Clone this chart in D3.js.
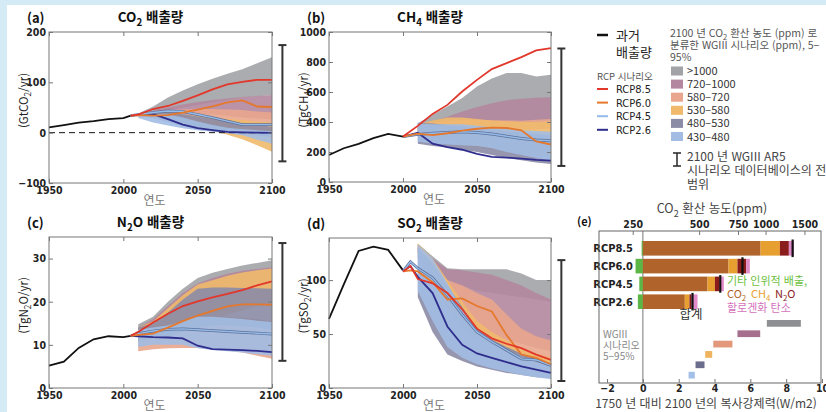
<!DOCTYPE html>
<html lang="ko">
<head>
  <meta charset="UTF-8">
  <title>Emissions - RCP vs WGIII</title>
  <script src="https://d3js.org/d3.v7.min.js"></script>
  <style>
    body { margin: 0; background: #fff; }
    .tick text { font-family: 'Liberation Sans Narrow', 'DejaVu Sans Condensed', sans-serif; font-weight: bold; font-size: 10.5px; fill: #222; }
    .tick line { stroke: #777; }
  </style>
</head>
<body>
<script>
  // ---- data ----
  const bandYears = [2010, 2020, 2030, 2040, 2050, 2060, 2070, 2080, 2090, 2100];
  const bandNames = [">1000", "720–1000", "580–720", "530–580", "480–530", "430–480"];
  const bandColors = ["#a2a3a6", "#b2879f", "#e9a68c", "#f0b96b", "#8b8ba6", "#a2bce3"];
  const rcpNames = ["RCP8.5", "RCP6.0", "RCP4.5", "RCP2.6"];
  const rcpColors = ["#e2372b", "#e5782c", "#94bbea", "#2f2e8e"];

  // CO2 (GtCO2/yr)
  const co2HistYears = [1950, 1960, 1970, 1980, 1990, 2000, 2005];
  const co2Hist = [10.5, 15, 20, 23, 27, 29, 34];
  const co2RcpYears = [2005, 2010, 2020, 2030, 2040, 2050, 2060, 2070, 2080, 2090, 2100];
  const co2Rcp = [
    [34, 36, 47, 53, 63, 74, 86, 96, 101, 105, 105],
    [34, 35, 34, 35, 40, 46, 52, 60, 64, 52, 51],
    [34, 36, 40, 43, 42, 36, 30, 23, 16, 16, 16],
    [34, 36, 37, 27, 16, 9, 5, 1.5, 0.5, 0, -0.5]
  ];
  const co2Lo = [
    [35, 40, 45, 50, 55, 60, 65, 70, 72, 75],
    [34, 37, 38, 38, 38, 36, 33, 30, 28, 26],
    [33, 34, 32, 27, 22, 17, 13, 10, 8, 6],
    [33, 32, 27, 19, 11, 4, -4, -13, -25, -38],
    [33, 29, 21, 13, 7, 3, 0, -3, -5, -8],
    [29, 20, 14, 9, 5, 2, -1, -5, -14, -22]
  ];
  const co2Hi = [
    [38, 52, 70, 84, 96, 107, 117, 126, 138, 150],
    [36, 44, 50, 56, 61, 65, 68, 71, 73, 75],
    [35, 40, 44, 46, 47, 47, 46, 45, 42, 40],
    [35, 37, 38, 36, 33, 30, 27, 25, 22, 20],
    [35, 38, 40, 37, 32, 27, 22, 18, 15, 12],
    [35, 38, 36, 30, 22, 15, 10, 7, 5, 3]
  ];
  const co2Range = [-57, 174];

  // CH4 (TgCH4/yr)
  const ch4HistYears = [1950, 1960, 1970, 1980, 1990, 2000];
  const ch4Hist = [180, 225, 254, 292, 321, 303];
  const ch4RcpYears = [2000, 2010, 2020, 2030, 2040, 2050, 2060, 2070, 2080, 2090, 2100];
  const ch4Rcp = [
    [303, 374, 454, 514, 603, 681, 753, 793, 833, 877, 893],
    [303, 322, 312, 325, 342, 355, 362, 360, 345, 270, 250],
    [303, 318, 325, 330, 335, 330, 320, 305, 290, 280, 275],
    [303, 328, 255, 232, 215, 187, 168, 163, 156, 147, 143]
  ];
  const ch4Lo = [
    [330, 350, 370, 390, 400, 410, 410, 410, 410, 410],
    [340, 360, 370, 380, 385, 390, 395, 400, 400, 405],
    [340, 340, 345, 345, 345, 345, 345, 345, 350, 355],
    [320, 295, 270, 250, 235, 220, 205, 190, 180, 170],
    [255, 240, 230, 215, 200, 180, 160, 145, 130, 120],
    [270, 255, 250, 245, 240, 225, 200, 180, 160, 140]
  ];
  const ch4Hi = [
    [392, 448, 503, 560, 637, 690, 726, 726, 704, 715],
    [375, 405, 435, 470, 500, 525, 545, 555, 562, 565],
    [372, 395, 410, 415, 415, 412, 410, 408, 415, 420],
    [385, 410, 430, 430, 420, 410, 405, 400, 400, 403],
    [395, 390, 380, 370, 360, 350, 340, 330, 320, 310],
    [390, 385, 385, 385, 375, 365, 355, 345, 340, 335]
  ];
  const ch4Range = [107, 890];

  // N2O (TgN2O/yr)
  const n2oHistYears = [1950, 1960, 1970, 1980, 1990, 2000, 2005];
  const n2oHist = [5.2, 6.1, 9.3, 11.3, 12.0, 11.8, 12.1];
  const n2oRcpYears = [2005, 2010, 2020, 2030, 2040, 2050, 2060, 2070, 2080, 2090, 2100];
  const n2oRcp = [
    [12.1, 13, 15.2, 17.2, 19, 20.1, 21, 21.8, 22.7, 23.8, 24.7],
    [12.1, 12.3, 12.6, 14, 15.5, 16.8, 17.9, 18.9, 19.4, 19.4, 19.3],
    [12.1, 12.6, 13.2, 13.6, 13.7, 13.5, 13.3, 13.1, 12.9, 12.7, 12.5],
    [12.1, 12, 11.8, 11.7, 11.5, 9.8, 9.0, 8.9, 8.8, 8.6, 8.3]
  ];
  const n2oLo = [
    [11, 12, 13, 15, 17, 18, 19, 20, 21, 22],
    [12, 13, 14, 15, 16, 17, 18, 19, 19.5, 20],
    [8.5, 9, 9.2, 9.3, 9.3, 9, 8.7, 8.2, 7.5, 6.8],
    [11, 11.5, 12, 13, 14, 15.5, 17, 18, 19, 20],
    [11, 11.5, 12, 13, 14, 14.5, 14.5, 14.3, 14, 13.5],
    [9.5, 10, 10, 10, 9.2, 8.8, 8.5, 8.2, 7.8, 7.5]
  ];
  const n2oHi = [
    [14.8, 16.5, 20, 23, 25.5, 26.7, 27.6, 28.4, 29, 29.6],
    [14, 16, 19, 22, 24.2, 25.5, 26.5, 27.2, 27.6, 28],
    [12, 13, 14, 15, 16, 16.5, 16.5, 16.3, 16, 15.5],
    [14, 15.5, 18.5, 21.5, 24, 25, 26, 26.8, 27.3, 27.7],
    [14, 15, 17.5, 20.5, 23, 23.3, 23.3, 23.2, 23.1, 23],
    [13.5, 14, 14.5, 15.5, 16.5, 16.5, 16.3, 16, 15.6, 15.3]
  ];
  const n2oRange = [6.3, 33.6];

  // SO2 (TgSO2/yr)
  const so2HistYears = [1950, 1960, 1970, 1980, 1990, 2000];
  const so2Hist = [64, 96, 127, 131, 128, 109];
  const so2RcpYears = [2000, 2005, 2010, 2020, 2030, 2040, 2050, 2060, 2070, 2080, 2090, 2100];
  const so2Rcp = [
    [108, 113, 101, 97, 88, 73, 55, 46, 41, 37, 31, 26],
    [108, 109, 108, 98, 82, 83, 76, 71, 49, 31, 28, 22],
    [108, 117, 111, 102, 86, 68, 52, 43, 35, 27, 26, 21],
    [108, 113, 103, 88, 57, 40, 32, 28, 24, 20, 17, 14]
  ];
  const so2Lo = [
    [125, 110, 100, 95, 90, 88, 86, 84, 82, 80],
    [120, 100, 75, 60, 52, 48, 45, 41, 37, 34],
    [125, 105, 75, 55, 45, 40, 35, 30, 27, 25],
    [128, 110, 85, 65, 50, 42, 35, 28, 24, 21],
    [84, 52, 31, 25, 20, 17, 14, 12, 10, 9],
    [90, 62, 38, 28, 22, 18, 15, 12, 10, 8]
  ];
  const so2Hi = [
    [134, 122, 111, 110, 110, 110, 110, 106, 100, 100],
    [132, 120, 110, 109, 107, 105, 100, 95, 88, 82],
    [132, 118, 100, 95, 88, 82, 68, 55, 48, 44],
    [134, 120, 100, 80, 62, 52, 44, 37, 32, 28],
    [130, 115, 95, 75, 55, 45, 38, 32, 27, 23],
    [133, 120, 97, 73, 52, 42, 35, 29, 24, 20]
  ];
  const so2Range = [6.5, 118.5];

  // radiative forcing in 2100 (W/m2)
  const forcingOther = [-0.07, -0.41, -0.20, -0.28];
  const forcingCO2 = [6.57, 4.78, 3.61, 2.34];
  const forcingCH4 = [1.08, 0.50, 0.41, 0.26];
  const forcingN2O = [0.50, 0.49, 0.26, 0.12];
  const forcingHalo = [0.28, 0.20, 0.24, 0.33];
  const wgLow = [6.92, 5.28, 3.93, 3.48, 2.94, 2.55];
  const wgHigh = [8.82, 6.55, 5.00, 3.87, 3.44, 2.90];
  const ppmTicks = [250, 500, 750, 1000, 1500];
  const wTicks = [-2, 0, 2, 4, 6, 8, 10];

  // ---- drawing ----
  const W = 826, H = 412;
  const KR = "'Noto Sans CJK KR', sans-serif";
  const NARROW = "'Liberation Sans Narrow', 'DejaVu Sans Condensed', sans-serif";
  const svg = d3.select("body").append("svg").attr("width", W).attr("height", H);

  svg.append("rect").attr("width", W).attr("height", H).attr("fill", "#d4eaf5");
  svg.append("rect").attr("x", 7).attr("y", 5).attr("width", W - 7).attr("height", H - 5).attr("fill", "#fff");

  // text with subscript parts: [["CO",0],["2",1],[" 배출량",0]]
  function subText(sel, parts, size) {
    let down = false;
    parts.forEach(p => {
      const t = sel.append("tspan").text(p[0]);
      if (p[1]) {
        t.attr("dy", size * 0.3).attr("font-size", size * 0.72);
        down = true;
      } else if (down) {
        t.attr("dy", -size * 0.3);
        down = false;
      }
    });
    return sel;
  }

  function drawPanel(p) {
    const x = d3.scaleLinear().domain([1950, 2100]).range([p.left, p.right]);
    const y = d3.scaleLinear().domain(p.yDomain).range([p.bottom, p.top]);
    const g = svg.append("g");

    // scenario bands
    bandColors.forEach((c, k) => {
      const pts = p.lo[k].map((v, i) => [bandYears[i], v, p.hi[k][i]]);
      g.append("path").datum(pts)
        .attr("fill", c).attr("fill-opacity", 0.9)
        .attr("d", d3.area().x(d => x(d[0])).y0(d => y(d[1])).y1(d => y(d[2])));
    });

    if (p.zeroLine) {
      g.append("line")
        .attr("x1", x(1950)).attr("x2", x(2100)).attr("y1", y(0)).attr("y2", y(0))
        .attr("stroke", "#111").attr("stroke-dasharray", "6,4").attr("stroke-width", 1);
    }

    // historical emissions
    g.append("path").datum(p.hist.map((v, i) => [p.histYears[i], v]))
      .attr("fill", "none").attr("stroke", "#111").attr("stroke-width", 1.8)
      .attr("d", d3.line().x(d => x(d[0])).y(d => y(d[1])));

    // RCP lines, drawn 2.6 first
    const line = d3.line().x(d => x(d[0])).y(d => y(d[1]));
    [3, 2, 1, 0].forEach(k => {
      const pts = p.rcp[k].map((v, i) => [p.rcpYears[i], v]);
      if (k === 2) {
        g.append("path").datum(pts).attr("fill", "none")
          .attr("stroke", "#5e7096").attr("stroke-width", 2.8).attr("d", line);
        g.append("path").datum(pts).attr("fill", "none")
          .attr("stroke", rcpColors[k]).attr("stroke-width", 1.4).attr("d", line);
      } else {
        g.append("path").datum(pts).attr("fill", "none")
          .attr("stroke", rcpColors[k]).attr("stroke-width", 1.8).attr("d", line);
      }
    });

    // frame
    g.append("rect")
      .attr("x", p.left).attr("y", p.top)
      .attr("width", p.right - p.left).attr("height", p.bottom - p.top)
      .attr("fill", "none").attr("stroke", "#777");

    const xt = [1950, 2000, 2050, 2100];
    g.append("g").attr("transform", `translate(0,${p.bottom})`)
      .call(d3.axisBottom(x).tickValues(xt).tickFormat(d3.format("d")).tickSize(-4).tickPadding(4))
      .call(a => a.select(".domain").remove());
    g.append("g").attr("transform", `translate(0,${p.top})`)
      .call(d3.axisTop(x).tickValues(xt).tickFormat("").tickSize(-4))
      .call(a => a.select(".domain").remove());
    g.append("g").attr("transform", `translate(${p.left},0)`)
      .call(d3.axisLeft(y).tickValues(p.yTicks).tickFormat(d => d < 0 ? "−" + Math.abs(d) : d).tickSize(-4).tickPadding(3))
      .call(a => a.select(".domain").remove());
    g.append("g").attr("transform", `translate(${p.right},0)`)
      .call(d3.axisRight(y).tickValues(p.yTicks).tickFormat("").tickSize(-4))
      .call(a => a.select(".domain").remove());

    // full range of the scenario database in 2100
    const ex = x(2107);
    g.append("line").attr("x1", ex).attr("x2", ex)
      .attr("y1", y(p.range[0])).attr("y2", y(p.range[1]))
      .attr("stroke", "#333").attr("stroke-width", 2);
    p.range.forEach(v => {
      g.append("line").attr("x1", ex - 4).attr("x2", ex + 4)
        .attr("y1", y(v)).attr("y2", y(v))
        .attr("stroke", "#333").attr("stroke-width", 2);
    });

    // titles
    g.append("text").attr("x", p.left - 22).attr("y", p.top - 9)
      .attr("font-family", KR).attr("font-weight", "bold").attr("font-size", 13)
      .attr("fill", "#111").text(p.tag);
    subText(g.append("text").attr("x", (p.left + p.right) / 2 - 10).attr("y", p.top - 10)
      .attr("text-anchor", "middle").attr("font-family", KR).attr("font-weight", "bold")
      .attr("font-size", 13.5).attr("fill", "#111"), p.title, 13.5);
    subText(g.append("text")
      .attr("transform", `translate(${p.left - 21},${(p.top + p.bottom) / 2 - 7}) rotate(-90)`)
      .attr("text-anchor", "middle").attr("font-family", KR).attr("font-size", 11.5)
      .attr("fill", "#222"), p.unit, 11.5);
    g.append("text").attr("x", (p.left + p.right) / 2 - 6).attr("y", p.bottom + 22)
      .attr("text-anchor", "middle").attr("font-family", KR).attr("font-size", 12)
      .attr("fill", "#777").text("연도");
  }

  drawPanel({
    left: 49, right: 272, top: 32, bottom: 183, yDomain: [-100, 200], yTicks: [-100, 0, 100, 200],
    histYears: co2HistYears, hist: co2Hist, rcpYears: co2RcpYears, rcp: co2Rcp,
    lo: co2Lo, hi: co2Hi, range: co2Range, zeroLine: true, tag: "(a)",
    title: [["CO", 0], ["2", 1], [" 배출량", 0]], unit: [["(GtCO", 0], ["2", 1], ["/yr)", 0]]
  });
  drawPanel({
    left: 329, right: 551, top: 32, bottom: 182, yDomain: [0, 1000], yTicks: [0, 200, 400, 600, 800, 1000],
    histYears: ch4HistYears, hist: ch4Hist, rcpYears: ch4RcpYears, rcp: ch4Rcp,
    lo: ch4Lo, hi: ch4Hi, range: ch4Range, tag: "(b)",
    title: [["CH", 0], ["4", 1], [" 배출량", 0]], unit: [["(TgCH", 0], ["4", 1], ["/yr)", 0]]
  });
  drawPanel({
    left: 49, right: 272, top: 237, bottom: 388, yDomain: [0, 35], yTicks: [0, 10, 20, 30],
    histYears: n2oHistYears, hist: n2oHist, rcpYears: n2oRcpYears, rcp: n2oRcp,
    lo: n2oLo, hi: n2oHi, range: n2oRange, tag: "(c)",
    title: [["N", 0], ["2", 1], ["O 배출량", 0]], unit: [["(TgN", 0], ["2", 1], ["O/yr)", 0]]
  });
  drawPanel({
    left: 329, right: 551, top: 238, bottom: 388, yDomain: [0, 139], yTicks: [0, 50, 100],
    histYears: so2HistYears, hist: so2Hist, rcpYears: so2RcpYears, rcp: so2Rcp,
    lo: so2Lo, hi: so2Hi, range: so2Range, tag: "(d)",
    title: [["SO", 0], ["2", 1], [" 배출량", 0]], unit: [["(TgSO", 0], ["2", 1], ["/yr)", 0]]
  });

  // ---- legend ----
  const lg = svg.append("g").attr("font-family", KR);
  lg.append("line").attr("x1", 597).attr("x2", 608).attr("y1", 35).attr("y2", 35)
    .attr("stroke", "#111").attr("stroke-width", 2.5);
  lg.append("text").attr("x", 616).attr("y", 40).attr("font-size", 13).attr("fill", "#222").text("과거");
  lg.append("text").attr("x", 616).attr("y", 57).attr("font-size", 13).attr("fill", "#222").text("배출량");
  lg.append("text").attr("x", 597).attr("y", 80).attr("font-size", 9.5).attr("fill", "#555").text("RCP 시나리오");
  rcpNames.forEach((n, i) => {
    const yy = 89 + i * 13.6;
    lg.append("line").attr("x1", 597).attr("x2", 608).attr("y1", yy).attr("y2", yy)
      .attr("stroke", rcpColors[i]).attr("stroke-width", 2);
    lg.append("text").attr("x", 616).attr("y", yy + 4).attr("font-size", 11)
      .attr("font-family", NARROW).attr("fill", "#222").text(n);
  });

  subText(lg.append("text").attr("x", 670).attr("y", 37).attr("font-size", 10.5).attr("fill", "#555"),
    [["2100 년 CO", 0], ["2", 1], [" 환산 농도 (ppm) 로", 0]], 10.5);
  lg.append("text").attr("x", 670).attr("y", 49).attr("font-size", 10.5).attr("fill", "#555").text("분류한 WGIII 시나리오 (ppm), 5−");
  lg.append("text").attr("x", 670).attr("y", 61).attr("font-size", 10.5).attr("fill", "#555").text("95%");
  bandNames.forEach((n, i) => {
    const yy = 71 + i * 13.1;
    lg.append("rect").attr("x", 671).attr("y", yy - 4.5).attr("width", 12).attr("height", 9)
      .attr("fill", bandColors[i]);
    lg.append("text").attr("x", 687).attr("y", yy + 4).attr("font-size", 11)
      .attr("fill", "#333").text(n);
  });

  lg.append("line").attr("x1", 677).attr("x2", 677).attr("y1", 153).attr("y2", 166).attr("stroke", "#333").attr("stroke-width", 1.6);
  lg.append("line").attr("x1", 673).attr("x2", 681).attr("y1", 153).attr("y2", 153).attr("stroke", "#333").attr("stroke-width", 1.6);
  lg.append("line").attr("x1", 673).attr("x2", 681).attr("y1", 166).attr("y2", 166).attr("stroke", "#333").attr("stroke-width", 1.6);
  lg.append("text").attr("x", 687).attr("y", 161).attr("font-size", 12).attr("fill", "#444").text("2100 년  WGIII AR5");
  lg.append("text").attr("x", 687).attr("y", 175).attr("font-size", 12).attr("fill", "#444").text("시나리오 데이터베이스의 전");
  lg.append("text").attr("x", 687).attr("y", 189).attr("font-size", 12).attr("fill", "#444").text("범위");

  // ---- panel (e): forcing ----
  const fx = d3.scaleLinear().domain([-2.45, 10]).range([599, 822]);
  const fTop = 231, fBottom = 383;
  const ppmToW = c => 5.35 * Math.log(c / 278);
  const eg = svg.append("g");

  eg.append("line").attr("x1", fx(0)).attr("x2", fx(0)).attr("y1", fTop).attr("y2", fBottom)
    .attr("stroke", "#777");

  const rowY = d3.scaleBand().domain(rcpNames).range([241, 309]).paddingInner(0.18);
  const wgY = d3.scaleBand().domain(bandNames).range([320, 378.5]).paddingInner(0.35);
  const segColors = ["#b0632a", "#e79f2f", "#8a1c1c", "#e28bc9"];
  const segData = [forcingCO2, forcingCH4, forcingN2O, forcingHalo];

  rcpNames.forEach((n, i) => {
    const y0 = rowY(n), bh = rowY.bandwidth();
    eg.append("rect").attr("x", fx(forcingOther[i])).attr("y", y0)
      .attr("width", fx(0) - fx(forcingOther[i])).attr("height", bh).attr("fill", "#5cb646");
    let acc = 0;
    segData.forEach((arr, k) => {
      eg.append("rect").attr("x", fx(acc)).attr("y", y0)
        .attr("width", fx(acc + arr[i]) - fx(acc)).attr("height", bh).attr("fill", segColors[k]);
      acc += arr[i];
    });
    const total = acc + forcingOther[i];
    eg.append("line").attr("x1", fx(total)).attr("x2", fx(total))
      .attr("y1", y0 - 1.5).attr("y2", y0 + bh + 1.5).attr("stroke", "#111").attr("stroke-width", 2.2);
    eg.append("text").attr("x", 633).attr("y", y0 + bh / 2 + 4)
      .attr("text-anchor", "end").attr("font-size", 11).attr("font-weight", "bold")
      .attr("font-family", NARROW).attr("fill", "#222").text(n);
  });

  const wgColors = ["#8e8f93", "#a66f8e", "#e3977b", "#efb45e", "#6c6c8d", "#a3c1e8"];
  bandNames.forEach((n, i) => {
    eg.append("rect").attr("x", fx(wgLow[i])).attr("y", wgY(n))
      .attr("width", fx(wgHigh[i]) - fx(wgLow[i])).attr("height", wgY.bandwidth())
      .attr("fill", wgColors[i]);
  });

  eg.append("rect").attr("x", 599).attr("y", fTop).attr("width", 222).attr("height", fBottom - fTop)
    .attr("fill", "none").attr("stroke", "#666");

  eg.append("g").attr("transform", `translate(0,${fBottom})`)
    .call(d3.axisBottom(fx).tickValues(wTicks).tickFormat(d => d < 0 ? "−" + Math.abs(d) : d).tickSize(-4).tickPadding(2))
    .call(a => a.select(".domain").remove());
  eg.append("g").attr("transform", `translate(0,${fTop})`)
    .call(d3.axisTop(fx).tickValues(ppmTicks.map(ppmToW)).tickFormat((d, i) => ppmTicks[i]).tickSize(-4).tickPadding(3))
    .call(a => a.select(".domain").remove());

  const et = eg.append("g").attr("font-family", KR);
  et.append("text").attr("x", 577).attr("y", 226).attr("font-size", 11).attr("font-weight", "bold")
    .attr("fill", "#111").text("(e)");
  subText(et.append("text").attr("x", 712).attr("y", 213).attr("text-anchor", "middle")
    .attr("font-size", 12.5).attr("fill", "#444"), [["CO", 0], ["2", 1], [" 환산  농도(ppm)", 0]], 12.5);
  et.append("text").attr("x", 706).attr("y", 408).attr("text-anchor", "middle")
    .attr("font-size", 12).attr("fill", "#444").text("1750 년  대비  2100 년의  복사강제력(W/m2)");
  et.append("text").attr("x", 691).attr("y", 319).attr("text-anchor", "middle")
    .attr("font-size", 12.5).attr("fill", "#333").text("합계");
  et.append("text").attr("x", 727).attr("y", 285).attr("font-size", 11).attr("fill", "#6cbf40").text("기타  인위적  배출,");
  subText(et.append("text").attr("x", 727).attr("y", 298).attr("font-size", 11).attr("fill", "#b0632a"), [["CO", 0], ["2", 1]], 11);
  subText(et.append("text").attr("x", 751).attr("y", 298).attr("font-size", 11).attr("fill", "#e79f2f"), [["CH", 0], ["4", 1]], 11);
  subText(et.append("text").attr("x", 775).attr("y", 298).attr("font-size", 11).attr("fill", "#8a1c1c"), [["N", 0], ["2", 1], ["O", 0]], 11);
  et.append("text").attr("x", 727).attr("y", 312).attr("font-size", 11).attr("fill", "#d46fbd").text("할로겐화  탄소");
  et.append("text").attr("x", 603).attr("y", 338).attr("font-size", 10).attr("fill", "#888").text("WGIII");
  et.append("text").attr("x", 603).attr("y", 349).attr("font-size", 10).attr("fill", "#888").text("시나리오");
  et.append("text").attr("x", 603).attr("y", 360).attr("font-size", 10).attr("fill", "#888").text("5−95%");
</script>
</body>
</html>
